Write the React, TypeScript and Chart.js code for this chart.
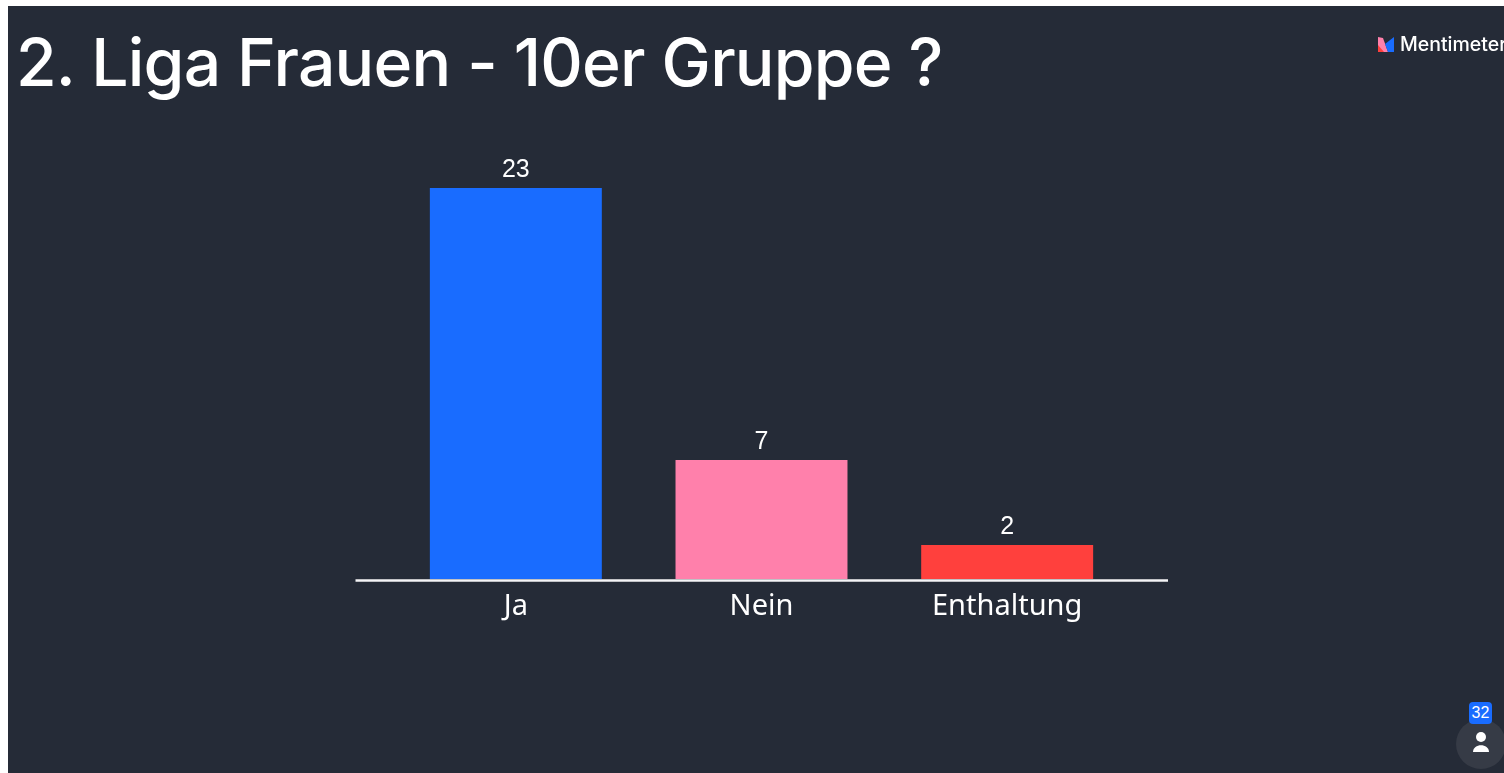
import React, { useEffect, useRef } from "react";
import { Chart, registerables } from "chart.js";

Chart.register(...registerables);

const title = "2. Liga Frauen - 10er Gruppe ?";
const brand = "Mentimeter";
const participants = "32";
const categories = ["Ja", "Nein", "Enthaltung"];
const votes = [23, 7, 2];
const barColors = ["#196CFF", "#FF80AB", "#FF403D"];

const PANEL = "#252B37";
const WHITE = "#FFFFFF";

const barValueLabels = {
  id: "barValueLabels",
  afterDatasetsDraw(chart: any) {
    const { ctx } = chart;
    const meta = chart.getDatasetMeta(0);
    ctx.save();
    ctx.fillStyle = WHITE;
    ctx.font = '25px "Liberation Sans", Arial, sans-serif';
    ctx.textAlign = "center";
    ctx.textBaseline = "alphabetic";
    meta.data.forEach((bar: any, i: number) => {
      ctx.fillText(String(votes[i]), bar.x, bar.y - 11);
    });
    ctx.restore();
  },
};

const baseline = {
  id: "baseline",
  afterDatasetsDraw(chart: any) {
    const { ctx, chartArea } = chart;
    const y = chart.scales.y.getPixelForValue(0);
    ctx.save();
    ctx.strokeStyle = "#F4F4F6";
    ctx.lineWidth = 2.5;
    ctx.beginPath();
    ctx.moveTo(chartArea.left - 37.5, y + 1.5);
    ctx.lineTo(chartArea.right + 38, y + 1.5);
    ctx.stroke();
    ctx.restore();
  },
};

export default function App() {
  const canvasRef = useRef<HTMLCanvasElement | null>(null);

  useEffect(() => {
    document.body.style.margin = "0";
    document.body.style.background = "#FFFFFF";
    document.body.style.overflow = "hidden";
    const chart = new Chart(canvasRef.current as HTMLCanvasElement, {
      type: "bar",
      data: {
        labels: categories,
        datasets: [
          {
            data: votes,
            backgroundColor: barColors,
            borderWidth: 0,
            categoryPercentage: 1,
            barPercentage: 0.7,
          },
        ],
      },
      options: {
        animation: false,
        responsive: false,
        layout: { padding: { left: 393, right: 374, top: 188, bottom: 134 } },
        plugins: { legend: { display: false }, tooltip: { enabled: false } },
        scales: {
          x: {
            grid: { display: false },
            border: { display: false },
            afterFit: (s: any) => {
              s.height = 60;
            },
            ticks: {
              color: WHITE,
              padding: 2,
              maxRotation: 0,
              font: { family: '"Noto Sans", sans-serif', size: 29 },
            },
          },
          y: { display: false, min: 0, max: 23 },
        },
      },
      plugins: [barValueLabels, baseline],
    } as any);
    return () => chart.destroy();
  }, []);

  return (
    <div style={{ position: "relative", width: 1504, height: 773, overflow: "hidden", background: "#FFF" }}>
      <div style={{ position: "absolute", left: 8, top: 6, width: 1496, height: 767, background: PANEL }} />
      <canvas ref={canvasRef} width={1504} height={773} style={{ position: "absolute", left: 0, top: 0, width: 1504, height: 773 }} />
      <div
        style={{
          position: "absolute",
          left: 16,
          top: 22,
          color: "#FFF",
          fontFamily: "Inter, sans-serif",
          fontWeight: 500,
          fontSize: 66,
          lineHeight: "80px",
          letterSpacing: -0.8,
          whiteSpace: "nowrap",
        }}
      >
        {title}
      </div>
      <svg style={{ position: "absolute", left: 1378, top: 37 }} width={17} height={15} viewBox="0 0 17 15">
        <path d="M0 0 L5 1 L10 15 L0 15 Z" fill="#FF80AB" />
        <path d="M0 8 L6 15 L0 15 Z" fill="#FF403D" />
        <path d="M7 7 L16 0 L16 15 L10 15 Z" fill="#196CFF" />
      </svg>
      <div
        style={{
          position: "absolute",
          left: 1400,
          top: 32,
          color: "#FFF",
          fontFamily: "Inter, sans-serif",
          fontSize: 19.5,
          fontWeight: 500,
          lineHeight: "24px",
          letterSpacing: 0,
          whiteSpace: "nowrap",
        }}
      >
        {brand}
      </div>
      <div style={{ position: "absolute", left: 1456, top: 719, width: 50, height: 50, borderRadius: 25, background: "#363B46" }} />
      <svg style={{ position: "absolute", left: 1471, top: 731 }} width={20} height={22} viewBox="0 0 20 22">
        <circle cx="10" cy="6" r="5" fill="#FFF" />
        <path d="M2 21 C2 12 18 12 18 21 Z" fill="#FFF" />
      </svg>
      <div
        style={{
          position: "absolute",
          left: 1469,
          top: 702,
          width: 23,
          height: 22,
          borderRadius: 4,
          background: "#196CFF",
          color: "#FFF",
          fontFamily: '"Liberation Sans", Arial, sans-serif',
          fontSize: 16,
          lineHeight: "22px",
          textAlign: "center",
        }}
      >
        {participants}
      </div>
    </div>
  );
}
